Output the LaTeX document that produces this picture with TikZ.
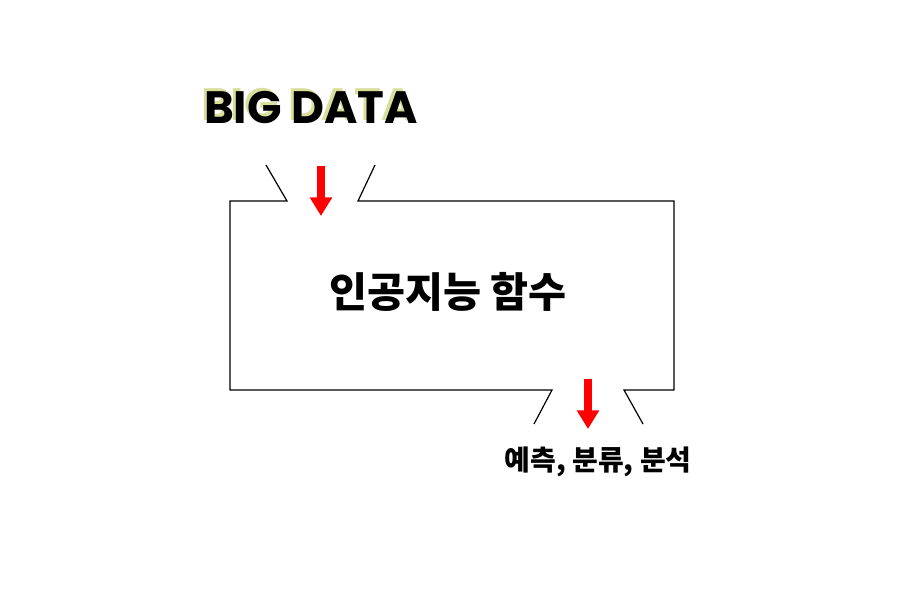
\documentclass[tikz,border=0pt]{standalone}
\usepackage{fontspec}
\setmainfont{Poppins}
\newfontfamily\kr{Noto Sans CJK KR}
\usetikzlibrary{arrows.meta}
\definecolor{shadowc}{HTML}{D9DE9A}
\tikzset{
  edge/.style={draw=black, line width=0.9pt},
  redarrow/.style={draw=red, line width=6pt, -{Triangle[length=14pt,width=16pt]}},
  bigtxt/.style={font=\fontsize{34}{34}\selectfont\bfseries, inner sep=0pt},
  krbig/.style={font=\kr\fontsize{31}{31}\selectfont\bfseries, inner sep=0pt},
  krsmall/.style={font=\kr\fontsize{21}{21}\selectfont\bfseries, inner sep=0pt}
}
\begin{document}
\begin{tikzpicture}[x=0.75pt,y=-0.75pt]
\useasboundingbox (0,0) rectangle (921,591);
% BIG DATA with shadow (one text node)
\node[bigtxt] (big) at (311,106) {\rlap{\hspace{-2.2pt}\raisebox{2.2pt}{\color{shadowc}BIG DATA}}BIG DATA};
% box outline
\coordinate (tl1) at (266,165);
\coordinate (tl2) at (287,201);
\coordinate (tr1) at (375,165);
\coordinate (tr2) at (358,201);
\coordinate (bl1) at (552,390);
\coordinate (bl2) at (534,424);
\coordinate (br1) at (624,390);
\coordinate (br2) at (643,424);
\draw[edge] (tl1) -- (tl2) -- (230,201) -- (230,390) -- (bl1) -- (bl2);
\draw[edge] (tr1) -- (tr2) -- (674,201) -- (674,390) -- (br1) -- (br2);
% arrows
\coordinate (a1s) at (321,166);
\coordinate (a1e) at (321,216);
\coordinate (a2s) at (588,379);
\coordinate (a2e) at (588,429);
\draw[redarrow] (a1s) -- (a1e);
\draw[redarrow] (a2s) -- (a2e);
% texts
\node[krbig] (ai) at (448,292) {인공지능 함수};
\node[krsmall] (out) at (598,462) {예측, 분류, 분석};
\end{tikzpicture}
\end{document}
